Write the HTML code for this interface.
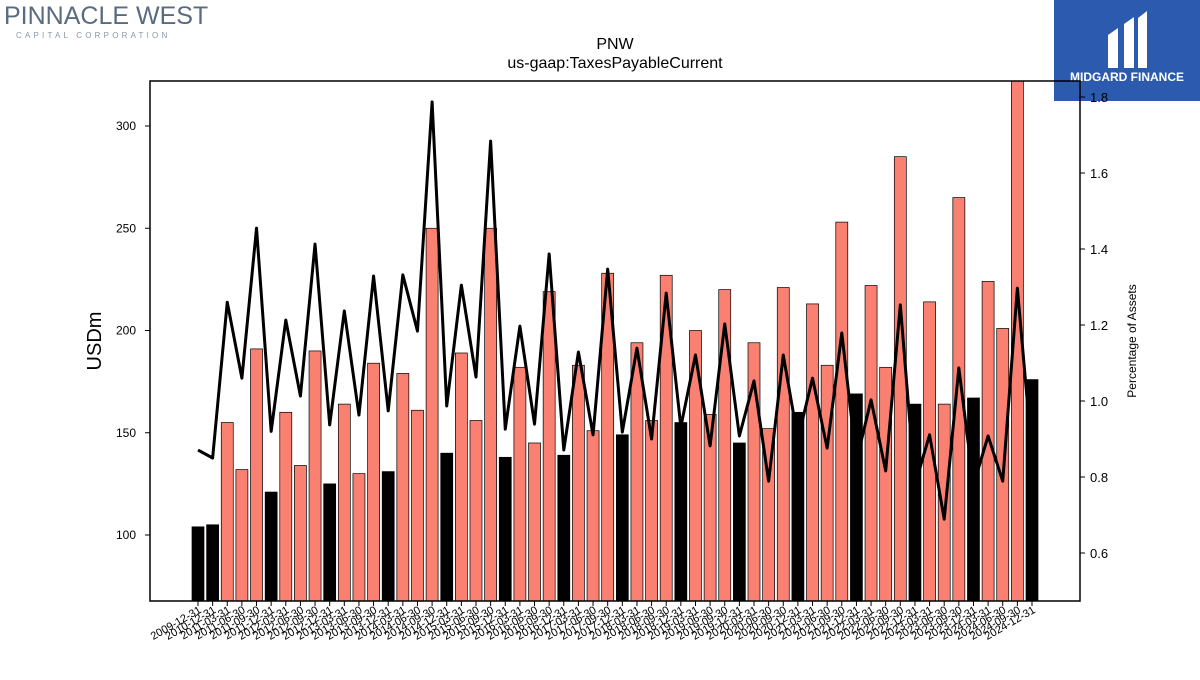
<!DOCTYPE html>
<html><head><meta charset="utf-8"><style>
body{margin:0;background:#fff;width:1200px;height:675px;overflow:hidden;font-family:"Liberation Sans",sans-serif}
svg text{font-family:"Liberation Sans",sans-serif}
</style></head><body>
<svg id="chart" width="1200" height="675" xmlns="http://www.w3.org/2000/svg">
<g>
<text x="4" y="24" font-family="Liberation Serif, serif" font-size="25" fill="#5a6b80">PINNACLE WEST</text>
<text x="16" y="38" font-size="8" letter-spacing="3.2" fill="#8a96a6">CAPITAL CORPORATION</text>
</g>
<g>
<rect x="1054" y="0" width="146" height="101" fill="#2b5aae"/>
<path d="M1108 68 L1108 35 L1118 28 L1118 68 Z M1124 68 L1124 24 L1134 17 L1134 68 Z M1138 68 L1138 18 L1147 11 L1147 68 Z" fill="#fff"/>
<text x="1127" y="81" font-size="12" font-weight="bold" fill="#fff" text-anchor="middle">MIDGARD FINANCE</text>
</g>
<text x="615" y="49" font-size="16" text-anchor="middle">PNW</text>
<text x="615" y="68" font-size="16" text-anchor="middle">us-gaap:TaxesPayableCurrent</text>
<defs><clipPath id="plotclip"><rect x="150" y="81" width="930" height="520"/></clipPath></defs>
<g id="bars" clip-path="url(#plotclip)"></g>
<g id="line" clip-path="url(#plotclip)"></g>
<rect x="150" y="81" width="930" height="520" fill="none" stroke="#000" stroke-width="1.5"/>
<g id="axes"></g>
<text transform="translate(101,341) rotate(-90)" font-size="20" text-anchor="middle">USDm</text>
<text transform="translate(1136,341) rotate(-90)" font-size="12" text-anchor="middle">Percentage of Assets</text>
</svg>
<script>
const dates=["2009-12-31","2010-12-31"];
for(let y=2011;y<=2024;y++){for(const q of ["03-31","06-30","09-30","12-31"])dates.push(y+"-"+q);}
const values=[104,105,155,132,191,121,160,134,190,125,164,130,184,131,179,161,250,140,189,156,250,138,182,145,219,139,183,151,228,149,194,156,227,155,200,159,220,145,194,152,221,160,213,183,253,169,222,182,285,164,214,164,265,167,224,201,330,176];
const pct=[0.871,0.85,1.26,1.06,1.455,0.92,1.213,1.013,1.413,0.937,1.237,0.963,1.329,0.974,1.332,1.184,1.787,0.987,1.305,1.063,1.684,0.926,1.197,0.939,1.387,0.871,1.129,0.911,1.347,0.918,1.139,0.9,1.284,0.932,1.121,0.882,1.203,0.908,1.053,0.789,1.121,0.9,1.06,0.876,1.179,0.842,1.003,0.816,1.253,0.779,0.911,0.689,1.087,0.779,0.908,0.789,1.297,0.858];
const leftTicks=[100,150,200,250,300];
const rightTicks=[0.6,0.8,1.0,1.2,1.4,1.6,1.8];
const NS="http://www.w3.org/2000/svg";
const xs=i=>198+i*(834/(dates.length-1));
const yL=v=>535-(v-100)*(409/200);
const yR=v=>553-(v-0.6)*380;
function mk(t,a,p){const e=document.createElementNS(NS,t);for(const k in a)e.setAttribute(k,a[k]);p.appendChild(e);return e;}
const bars=document.getElementById('bars'),line=document.getElementById('line'),axes=document.getElementById('axes');
const bw=12;
values.forEach((v,i)=>{
 const black=dates[i].endsWith("12-31");
 const r=mk('rect',{x:xs(i)-bw/2,y:yL(v),width:bw,height:601-yL(v),fill:black?'#000':'#fa8072',stroke:'#000','stroke-width':0.7},bars);
 
 
});
const pl=mk('polyline',{points:pct.map((p,i)=>xs(i)+','+yR(p)).join(' '),fill:'none',stroke:'#000','stroke-width':3,'stroke-linejoin':'round'},line);


leftTicks.forEach(t=>{
 mk('line',{x1:145,x2:150,y1:yL(t),y2:yL(t),stroke:'#000'},axes);
 const tx=mk('text',{x:136,y:yL(t)+4,'font-size':12,'text-anchor':'end'},axes);tx.textContent=t;
 
 
});
rightTicks.forEach(t=>{
 mk('line',{x1:1080,x2:1085,y1:yR(t),y2:yR(t),stroke:'#000'},axes);
 const tx=mk('text',{x:1090,y:yR(t)+5,'font-size':13},axes);tx.textContent=t.toFixed(1);
 
 
});
dates.forEach((d,i)=>{
 mk('line',{x1:xs(i),x2:xs(i),y1:601,y2:606,stroke:'#000'},axes);
 const tx=mk('text',{transform:`translate(${xs(i)+4},${612}) rotate(-30)`,'font-size':11,'text-anchor':'end'},axes);tx.textContent=d;
 
 
});
</script>
</body></html>
